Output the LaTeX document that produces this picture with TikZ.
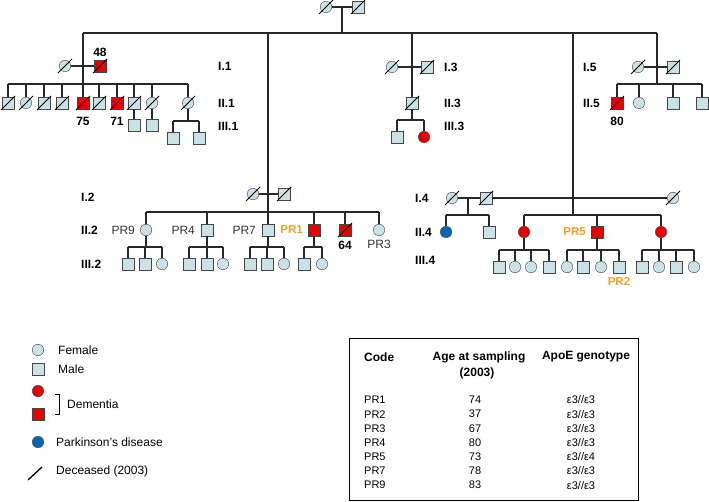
\documentclass[tikz,border=0pt]{standalone}
\usepackage{fontspec}
\setmainfont{Liberation Sans}
\usepackage{tikz}
\usetikzlibrary{positioning}
\definecolor{symfill}{RGB}{200,226,230}
\definecolor{symline}{RGB}{70,70,70}
\definecolor{demred}{RGB}{232,0,0}
\definecolor{parkblue}{RGB}{10,100,180}
\definecolor{prorange}{RGB}{240,160,40}
\definecolor{linecol}{RGB}{40,40,40}

\begin{document}
\begin{tikzpicture}[x=1pt,y=-1pt,
        every node/.style={inner sep=0pt},
        fem/.style={circle,draw=symline,fill=symfill,minimum size=11.5pt},
        mal/.style={rectangle,draw=symline,fill=symfill,minimum size=11.5pt},
        femdem/.style={fem,fill=demred},
        maldem/.style={mal,fill=demred},
        fempark/.style={fem,fill=parkblue},
        pedline/.style={draw=linecol,line width=1.2pt},
        slash/.style={draw=black,line width=1pt},
        genlab/.style={anchor=west,font=\bfseries\fontsize{12}{14}\selectfont},
        numlab/.style={font=\bfseries\fontsize{12}{14}\selectfont},
        prlab/.style={text=black!80,font=\fontsize{12}{14}\selectfont},
        prhigh/.style={text=prorange,font=\bfseries\fontsize{11.5}{14}\selectfont},
        leglab/.style={anchor=west,font=\fontsize{12}{14}\selectfont},
        tabhead/.style={font=\bfseries\fontsize{12}{14}\selectfont},
        tabcell/.style={font=\fontsize{11}{13}\selectfont}]
    \useasboundingbox (0,0) rectangle (709,502);

    % first generation
    \node[fem] (gp1) at (326,7) {};
    \node[mal] (gp2) at (358,7) {};
    \coordinate (gpm) at (342,7);
    \coordinate (gps) at (342,33);
    \coordinate (k1) at (83,33);
    \coordinate (k2) at (268,33);
    \coordinate (k3) at (412,33);
    \coordinate (k4) at (573,33);
    \coordinate (k5) at (657,33);
    \draw[pedline] (gp1) -- (gp2) (gpm) -- (gps) (k1) -- (k5);

    % family I.1
    \node[fem] (a1) at (65,66) {};
    \node[maldem] (a2) at (100,66) {};
    \node[numlab,above=3pt of a2] (n48) {48};
    \coordinate (as) at (83,84);
    \draw[pedline] (a1) -- (a2) (k1) -- (as);
    \foreach \x/\t [count=\i] in {8/mal,26/fem,44/mal,62/mal,83/maldem,99/mal,117/maldem,134/mal,152/fem,188/fem}
        \node[\t] (b\i) at (\x,103) {};
    \draw[pedline] (b1 |- as) -- (b10 |- as);
    \foreach \i in {1,...,10} \draw[pedline] (b\i) -- (b\i |- as);
    \node[numlab,below=8pt of b5] (n75) {75};
    \node[numlab,below=8pt of b7] (n71) {71};
    \node[mal] (c1) at (134,125) {};
    \node[mal] (c2) at (152,125) {};
    \coordinate (bs) at (188,121);
    \node[mal] (c3) at (173,138) {};
    \node[mal] (c4) at (199,138) {};
    \draw[pedline] (b8) -- (c1) (b9) -- (c2) (b10) -- (bs) (c3 |- bs) -- (c4 |- bs)
        (c3) -- (c3 |- bs) (c4) -- (c4 |- bs);
    \node[genlab] (g11) at (218,66) {I.1};
    \node[genlab] (g12) at (218,103) {II.1};
    \node[genlab] (g13) at (218,126) {III.1};

    % family I.3
    \node[fem] (d1) at (392,67) {};
    \node[mal] (d2) at (427,67) {};
    \node[mal] (d3) at (412,103) {};
    \coordinate (ds) at (412,120);
    \node[mal] (d4) at (397,137) {};
    \node[femdem] (d5) at (424,137) {};
    \draw[pedline] (d1) -- (d2) (k3) -- (d3) (d3) -- (ds) (d4 |- ds) -- (d5 |- ds)
        (d4) -- (d4 |- ds) (d5) -- (d5 |- ds);
    \node[genlab] (g31) at (444,67) {I.3};
    \node[genlab] (g32) at (444,103) {II.3};
    \node[genlab] (g33) at (444,126) {III.3};

    % family I.5
    \node[fem] (e1) at (638,67) {};
    \node[mal] (e2) at (673,67) {};
    \coordinate (es) at (657,84);
    \foreach \x/\t [count=\i] in {617/maldem,639/fem,673/mal,702/mal}
        \node[\t] (ec\i) at (\x,103) {};
    \draw[pedline] (e1) -- (e2) (k5) -- (es) (ec1 |- es) -- (ec4 |- es);
    \foreach \i in {1,...,4} \draw[pedline] (ec\i) -- (ec\i |- es);
    \node[numlab,below=8pt of ec1] (n80) {80};
    \node[genlab] (g51) at (583,67) {I.5};
    \node[genlab] (g52) at (583,103) {II.5};

    % family I.2
    \node[fem] (f1) at (253,194) {};
    \node[mal] (f2) at (284,194) {};
    \coordinate (fs) at (268,212);
    \node[fem] (pr9) at (146,230) {};
    \node[mal] (pr4) at (207,230) {};
    \node[mal] (pr7) at (268,230) {};
    \node[maldem] (pr1) at (314,230) {};
    \node[maldem] (f64) at (345,230) {};
    \node[fem] (pr3) at (379,230) {};
    \draw[pedline] (f1) -- (f2) (k2) -- (fs) (pr9 |- fs) -- (pr3 |- fs);
    \foreach \n in {pr9,pr4,pr7,pr1,f64,pr3} \draw[pedline] (\n) -- (\n |- fs);
    \node[prlab,left=5pt of pr9] (l9) {PR9};
    \node[prlab,left=6pt of pr4] (l4) {PR4};
    \node[prlab,left=6pt of pr7] (l7) {PR7};
    \node[prhigh,left=5pt of pr1] (l1) {PR1};
    \node[numlab,below=5pt of f64] (n64) {64};
    \node[prlab,below=4pt of pr3] (l3) {PR3};
    \coordinate (r2) at (0,247);
    \foreach \p/\xa/\xb/\xc in {pr9/128/145/162,pr4/189/207/223,pr7/250/267/284} {
        \node[mal] (\p a) at (\xa,264) {};
        \node[mal] (\p b) at (\xb,264) {};
        \node[fem] (\p c) at (\xc,264) {};
        \draw[pedline] (\p) -- (\p |- r2) (\p a |- r2) -- (\p c |- r2);
        \foreach \q in {a,b,c} \draw[pedline] (\p\q) -- (\p\q |- r2);
    }
    \node[mal] (pr1a) at (304,264) {};
    \node[fem] (pr1b) at (322,264) {};
    \draw[pedline] (pr1) -- (pr1 |- r2) (pr1a |- r2) -- (pr1b |- r2)
        (pr1a) -- (pr1a |- r2) (pr1b) -- (pr1b |- r2);
    \node[genlab] (g21) at (81,197) {I.2};
    \node[genlab] (g22) at (81,230) {II.2};
    \node[genlab] (g23) at (81,264) {III.2};

    % family I.4
    \node[fem] (h1) at (452,198) {};
    \node[mal] (h2) at (486,198) {};
    \node[fem] (h3) at (673,198) {};
    \coordinate (hm) at (468,198);
    \coordinate (hl) at (468,215);
    \coordinate (hs) at (573,215);
    \node[fempark] (h4) at (446,232) {};
    \node[mal] (h5) at (489,232) {};
    \node[femdem] (h6) at (524,232) {};
    \node[maldem] (pr5) at (597,232) {};
    \node[femdem] (h7) at (661,232) {};
    \draw[pedline] (h1) -- (h2) (h2) -- (h3) (hm) -- (hl) (h4 |- hl) -- (h5 |- hl)
        (h4) -- (h4 |- hl) (h5) -- (h5 |- hl);
    \draw[pedline] (k4) -- (hs) (h6 |- hs) -- (h7 |- hs);
    \foreach \n in {h6,pr5,h7} \draw[pedline] (\n) -- (\n |- hs);
    \node[prhigh,left=5pt of pr5] (l5) {PR5};
    \coordinate (r4) at (0,250);
    \foreach \p/\xa/\ta/\xb/\tb/\xc/\tc/\xd/\td in {h6/499/mal/515/fem/531/fem/549/mal,
            pr5/567/fem/583/mal/601/fem/619/mal,h7/642/mal/659/fem/676/mal/694/fem} {
        \node[\ta] (\p a) at (\xa,267) {};
        \node[\tb] (\p b) at (\xb,267) {};
        \node[\tc] (\p c) at (\xc,267) {};
        \node[\td] (\p d) at (\xd,267) {};
        \draw[pedline] (\p) -- (\p |- r4) (\p a |- r4) -- (\p d |- r4);
        \foreach \q in {a,b,c,d} \draw[pedline] (\p\q) -- (\p\q |- r4);
    }
    \node[prhigh,below=4pt of pr5d] (l2) {PR2};
    \node[genlab] (g41) at (415,198) {I.4};
    \node[genlab] (g42) at (415,232) {II.4};
    \node[genlab] (g43) at (415,260) {III.4};

    % deceased
    \foreach \n in {gp1,gp2,a1,a2,b1,b2,b3,b4,b5,b6,b7,b8,b9,b10,d1,d2,d3,e1,e2,ec1,f1,f2,f64,h1,h2,h3}
        \draw[slash] ([shift={(-7pt,-7pt)}]\n.center) -- ([shift={(7pt,7pt)}]\n.center);

    % legend
    \node[fem] (lf) at (38,350) {};
    \node[leglab] (lft) at (58,350) {Female};
    \node[mal] (lm) at (38,369) {};
    \node[leglab] (lmt) at (58,369) {Male};
    \node[femdem] (ld1) at (38,391) {};
    \node[maldem] (ld2) at (38,414) {};
    \coordinate (lb1) at (55,394);
    \coordinate (lb2) at (55,414);
    \draw[line width=1pt] (lb1) -- ++(4,0) |- (lb2);
    \node[leglab] (ldt) at (67,404) {Dementia};
    \node[fempark] (lp) at (38,442) {};
    \node[leglab] (lpt) at (56,442) {Parkinson’s disease};
    \coordinate (ls1) at (28,480);
    \coordinate (ls2) at (42,467);
    \draw[slash,line width=1.3pt] (ls1) -- (ls2);
    \node[leglab] (lst) at (56,471) {Deceased (2003)};

    % table
    \node[draw,line width=1.3pt,minimum width=289pt,minimum height=162pt,anchor=north west] (tab) at (349,338) {};
    \node[tabhead,anchor=west] (hc) at (364,357) {Code};
    \node[tabhead] (ha) at (479,357) {Age at sampling};
    \node[tabhead] (hb) at (477,373) {(2003)};
    \node[tabhead] (hg) at (586,357) {ApoE genotype};
    \foreach \c/\a/\g [count=\i] in {PR1/74/3,PR2/37/3,PR3/67/3,PR4/80/3,PR5/73/4,PR7/78/3,PR9/83/3} {
        \pgfmathsetmacro\yy{400+14.2*(\i-1)}
        \node[tabcell,anchor=west] (tc\i) at (364,\yy) {\c};
        \node[tabcell] (ta\i) at (475,\yy) {\a};
        \node[tabcell] (tg\i) at (581,\yy) {ε3//ε\g};
    }
\end{tikzpicture}
\end{document}
